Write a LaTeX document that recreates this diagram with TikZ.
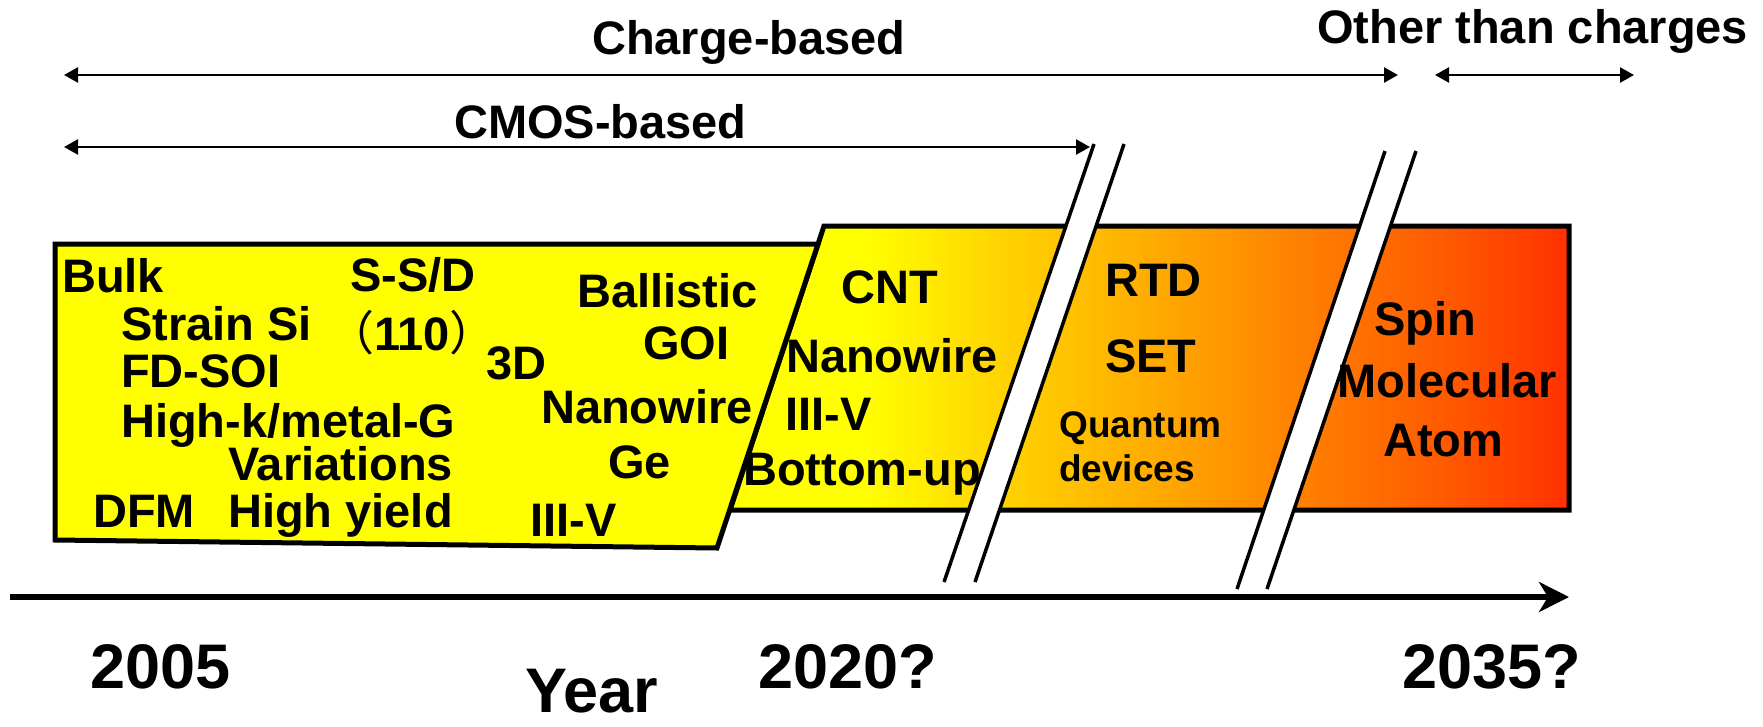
\documentclass[tikz,border=0pt]{standalone}
\usepackage{fontspec}
\setmainfont{Liberation Sans}
\newfontfamily\cjk{Noto Sans CJK SC}
\usetikzlibrary{arrows.meta}

\definecolor{devY}{RGB}{255,255,0}
\definecolor{devA}{RGB}{255,212,0}
\definecolor{devB}{RGB}{255,172,0}
\definecolor{devC}{RGB}{255,128,0}
\definecolor{devD}{RGB}{255,88,0}
\definecolor{devE}{RGB}{255,48,0}

% Yellow to red-orange, left to right across the device box
\pgfdeclarehorizontalshading{devshade}{100bp}{%
  color(0bp)=(devY); color(33bp)=(devY); color(41bp)=(devA);
  color(50bp)=(devB); color(59bp)=(devC); color(68bp)=(devD);
  color(75bp)=(devE); color(100bp)=(devE)}

\begin{document}
\begin{tikzpicture}[x=1pt,y=-1pt,
  lbl/.style={inner sep=0pt, anchor=base west, font=\fontsize{47}{50}\selectfont\bfseries},
  small/.style={inner sep=0pt, anchor=base west, font=\fontsize{37}{40}\selectfont\bfseries},
  year/.style={inner sep=0pt, anchor=base west, font=\fontsize{63}{66}\selectfont\bfseries},
  span/.style={line width=2.4pt, {Triangle[length=14pt,width=15pt]}-{Triangle[length=14pt,width=15pt]}},
  axis/.style={line width=6.5pt, -{Stealth[length=30pt,width=30pt,inset=9pt]}},
  boxline/.style={line width=5pt, line join=miter},
  breakline/.style={line width=3.5pt}]
\useasboundingbox (0,0) rectangle (1763,726);

% device box (post-CMOS), shaded
\shadedraw[shading=devshade, boxline]
  (824,226) -- (1569,226) -- (1569,510) -- (730,510) -- cycle;
% CMOS region
\filldraw[fill=devY, boxline]
  (55,244) -- (818,244) -- (717,548) -- (55,540) -- cycle;

% break marks
\fill[white] (1094,144) -- (1124,144) -- (975,582) -- (944,582) -- cycle;
\coordinate (b1a) at (1094,144); \coordinate (b1b) at (944,582);
\coordinate (b1c) at (1124,144); \coordinate (b1d) at (975,582);
\draw[breakline] (b1a) -- (b1b);
\draw[breakline] (b1c) -- (b1d);
\fill[white] (1385,151) -- (1416,151) -- (1267,589) -- (1237,589) -- cycle;
\coordinate (b2a) at (1385,151); \coordinate (b2b) at (1237,589);
\coordinate (b2c) at (1416,151); \coordinate (b2d) at (1267,589);
\draw[breakline] (b2a) -- (b2b);
\draw[breakline] (b2c) -- (b2d);

% span arrows
\coordinate (cbL) at (64,75);   \coordinate (cbR) at (1398,75);
\coordinate (otL) at (1435,75); \coordinate (otR) at (1634,75);
\coordinate (cmL) at (64,147);  \coordinate (cmR) at (1090,147);
\draw[span] (cbL) -- (cbR);
\draw[span] (otL) -- (otR);
\draw[span] (cmL) -- (cmR);

\node[lbl] (charge) at (592,54) {Charge-based};
\node[lbl] (other) at (1317,43) {Other than charges};
\node[lbl] (cmos) at (454,138) {CMOS-based};

% time axis
\coordinate (axL) at (10,597); \coordinate (axR) at (1569,597);
\draw[axis] (axL) -- (axR);
\node[year] (y2005) at (90,688) {2005};
\node[year] (y2020) at (758,688) {2020?};
\node[year] (y2035) at (1402,688) {2035?};
\node[year] (yr) at (525,712) {Year};

% CMOS region labels
\node[lbl] (bulk) at (62,292) {Bulk};
\node[lbl] (strain) at (121,340) {Strain Si};
\node[lbl] (fdsoi) at (121,387) {FD-SOI};
\node[lbl] (highk) at (121,437) {High-k/metal-G};
\node[lbl] (var) at (228,480) {Variations};
\node[lbl] (dfm) at (93,527) {DFM};
\node[lbl] (yield) at (228,527) {High yield};
\node[lbl] (ssd) at (350,291) {S-S/D};
\node[lbl, anchor=base] (o110) at (412,350) {{\cjk\mdseries\kern-20pt （}110{\cjk\mdseries ）\kern-20pt}};
\node[lbl] (td) at (486,379) {3D};
\node[lbl] (ball) at (577,307) {Ballistic};
\node[lbl] (goi) at (643,359) {GOI};
\node[lbl] (nw1) at (541,423) {Nanowire};
\node[lbl] (ge) at (608,478) {Ge};
\node[lbl] (iiiv1) at (530,536) {III-V};

% beyond-CMOS labels
\node[lbl] (cnt) at (841,303) {CNT};
\node[lbl] (nw2) at (786,372) {Nanowire};
\node[lbl] (iiiv2) at (785,430) {III-V};
\node[lbl] (bup) at (743,485) {Bottom-up};
\node[lbl] (rtd) at (1105,296) {RTD};
\node[lbl] (set) at (1105,372) {SET};
\node[small] (quant) at (1059,437) {Quantum};
\node[small] (dev) at (1059,481) {devices};
\node[lbl] (spin) at (1374,335) {Spin};
\node[lbl] (mol) at (1337,397) {Molecular};
\node[lbl] (atom) at (1383,456) {Atom};
\end{tikzpicture}
\end{document}
